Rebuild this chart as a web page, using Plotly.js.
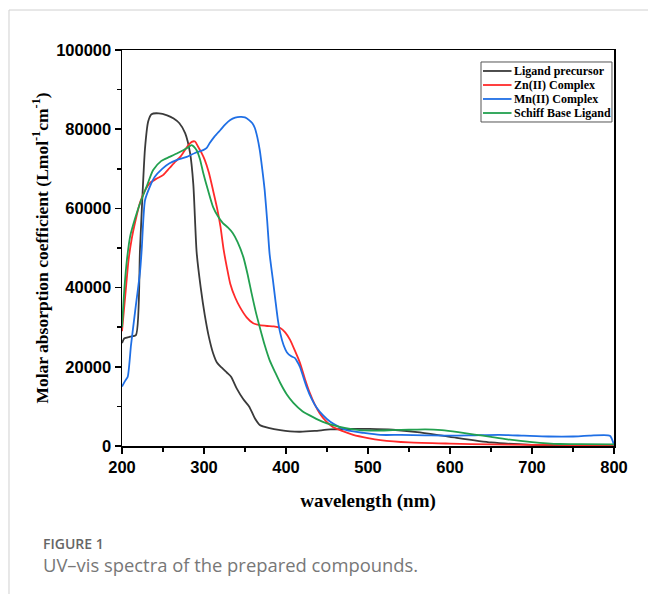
<!DOCTYPE html>
<html>
<head>
<meta charset="utf-8">
<script src="https://cdn.plot.ly/plotly-3.0.1.min.js"></script>
<style>html,body{margin:0;padding:0;background:#fff;}#chart{width:648px;height:594px;}</style>
</head>
<body>
<div id="chart"></div>
<script>
// Ligand precursor
const ligX = [200,203,210,217,222,228,232,236,245,255,263,270,277,283,287,291,296,301,306,311,316,322,328,333,340,348,355,362,368,380,393,405,417,435,454,480,502,530,560,600,650,700,750,800];
const ligY = [26000,27200,27600,28000,50000,75000,82000,83800,84000,83500,82700,81500,79000,74000,66000,49000,40000,33000,27500,23500,21000,19700,18500,17500,14500,11800,10000,7000,5300,4500,4000,3700,3600,3800,4200,4300,4300,4100,3500,2300,900,300,100,0];
// Zn(II) Complex
const znX = [200,204,208,212,216,222,228,234,242,250,258,265,271,276,281,285,289,293,297,301,306,311,316,320,324,328,332,338,344,352,360,368,377,385,393,399,405,411,417,423,429,435,441,449,457,470,482,500,515,550,600,650,700,750,800];
const znY = [29000,38000,47000,52500,56500,61500,64500,66400,67500,68400,70200,71800,73000,74500,76000,76800,76900,75500,74000,72200,69000,64600,60000,55500,49500,45000,41000,37500,35000,32500,31000,30500,30300,30200,29800,28700,26800,24000,21000,17000,13400,10500,8300,6200,4800,3700,2800,2000,1500,900,600,400,300,250,200];
// Mn(II) Complex
const mnX = [200,204,207,211,216,222,224,228,234,240,249,258,268,279,289,299,303,307,313,320,326,332,338,344,350,355,359,362,365,368,371,374,377,380,384,387,390,393,397,401,406,411,414,417,421,425,431,437,445,454,464,474,495,515,540,570,600,630,660,690,720,750,770,795,800];
const mnY = [15000,16500,17500,25500,34000,44000,49500,62000,65500,68000,70000,71400,72300,73000,74000,74700,75200,76500,78200,79800,81200,82300,82900,83100,83000,82300,81500,80300,78000,74700,70000,64600,57000,48500,42000,36900,32000,28500,25500,23700,22700,22200,21200,20000,17500,15000,12000,9800,7800,6100,4900,4000,3300,2800,2800,2700,2600,2700,2800,2600,2400,2400,2600,2600,200];
// Schiff Base Ligand
const sbX = [200,203,206,210,216,222,230,238,248,258,268,279,285,291,295,299,305,311,317,323,329,335,341,348,353,358,363,368,374,380,387,393,401,409,420,433,445,457,473,490,510,530,550,570,590,610,630,650,670,700,734,760,800];
const sbY = [30000,40000,47000,53000,57500,61300,65500,69700,72000,73000,74000,75200,76000,74700,72500,69000,64500,60400,58000,56300,55200,53800,51500,47700,43500,38600,34000,30000,25500,21700,18500,15900,13000,10900,8800,7300,6100,5300,4500,4000,3900,4000,4100,4200,4000,3500,2900,2300,1700,1000,500,450,400];

const seriesNames = ['Ligand precursor','Zn(II) Complex','Mn(II) Complex','Schiff Base Ligand'];
const seriesColors = ['#3a3a3a','#ff2a2a','#1f6fe5','#22a04f'];
const xs = [ligX, znX, mnX, sbX];
const ys = [ligY, znY, mnY, sbY];

const traces = seriesNames.map((n,i)=>({
  type:'scatter', mode:'lines', name:n, x:xs[i], y:ys[i], showlegend:false,
  line:{color:seriesColors[i], width:1.8, shape:'spline', smoothing:0.6}
}));

// compact legend (box, sample lines and labels in paper coordinates)
const legFont = {family:'Liberation Serif, Times New Roman, serif', size:12, color:'#000', weight:'bold'};
const legRowsY = [0.9470, 0.9116, 0.8763, 0.8409];
const legShapes = [{type:'rect', xref:'paper', yref:'paper', x0:0.7297, x1:0.9959, y0:0.8182, y1:0.9697,
  line:{color:'#555', width:1}, fillcolor:'#fff', layer:'above'}];
const legAnn = [];
seriesNames.forEach((n,i)=>{
  legShapes.push({type:'line', xref:'paper', yref:'paper', x0:0.7337, x1:0.7917, y0:legRowsY[i], y1:legRowsY[i],
    line:{color:seriesColors[i], width:1.8}, layer:'above'});
  legAnn.push({xref:'paper', yref:'paper', x:0.7917, y:legRowsY[i], xanchor:'left', yanchor:'middle', showarrow:false,
    text:n, font:legFont});
});

const axisFont = {family:'Liberation Sans, Arial, sans-serif', size:16.5, color:'#000', weight:'bold'};
const layout = {
  width:648, height:594,
  margin:{l:122, r:34, t:50, b:148},
  paper_bgcolor:'#fff', plot_bgcolor:'#fff',
  showlegend:false,
  xaxis:{range:[200,800], dtick:100, tick0:200, showgrid:false, zeroline:false,
    showline:true, linecolor:'#000', linewidth:1.5, mirror:true,
    ticks:'outside', ticklen:6, tickwidth:1.5, tickcolor:'#000',
    minor:{dtick:50, ticks:'outside', ticklen:4, tickwidth:1.5, tickcolor:'#000'},
    tickfont:axisFont,
    title:{text:'wavelength (nm)', font:{family:'Liberation Serif, Times New Roman, serif', size:19, color:'#000', weight:'bold'}, standoff:18}},
  yaxis:{range:[0,100000], dtick:20000, showgrid:false, zeroline:false,
    showline:true, linecolor:'#000', linewidth:1.5, mirror:true,
    ticks:'outside', ticklen:6, tickwidth:1.5, tickcolor:'#000',
    minor:{dtick:10000, ticks:'outside', ticklen:4, tickwidth:1.5, tickcolor:'#000'},
    tickfont:axisFont, tickformat:'d',
    title:{text:'Molar absorption coefficient (Lmol<sup>-1</sup>cm<sup>-1</sup>)', font:{family:'Liberation Serif, Times New Roman, serif', size:17.5, color:'#000', weight:'bold'}, standoff:3}},
  shapes:[
    {type:'line', xref:'paper', yref:'paper', x0:-0.2297, x1:-0.2297, y0:1.101, y1:-0.38, line:{color:'#d0d0d0', width:1}},
    {type:'line', xref:'paper', yref:'paper', x0:-0.2297, x1:1.08, y0:1.101, y1:1.101, line:{color:'#d0d0d0', width:1}}
  ].concat(legShapes),
  annotations:[
    {xref:'paper', yref:'paper', x:-0.1646, y:-0.2455, xanchor:'left', yanchor:'middle', showarrow:false,
     text:'FIGURE 1', font:{family:'Open Sans, sans-serif', size:14, color:'#666', weight:600}},
    {xref:'paper', yref:'paper', x:-0.1646, y:-0.2995, xanchor:'left', yanchor:'middle', showarrow:false,
     text:'UV\u2013vis spectra of the prepared compounds.', font:{family:'Open Sans, sans-serif', size:18.4, color:'#777', weight:400}}
  ].concat(legAnn)
};
Plotly.newPlot('chart', traces, layout, {displayModeBar:false, staticPlot:true});
</script>
</body>
</html>
